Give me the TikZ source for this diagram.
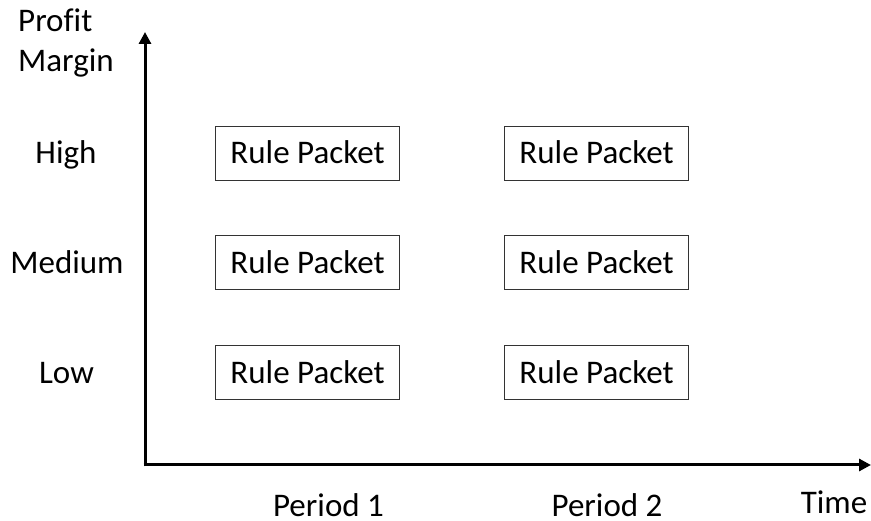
\documentclass[tikz,border=0pt]{standalone}
\usepackage{fontspec}
\setmainfont{Carlito}[Ligatures=NoCommon]
\usetikzlibrary{arrows.meta}
\begin{document}
\begin{tikzpicture}[x=1pt,y=-1pt,
  packet/.style={draw=black!80,line width=1pt,minimum width=184pt,minimum height=54pt,inner sep=0pt},
  ptext/.style={font=\fontsize{33}{36}\selectfont,inner sep=0pt,anchor=base},
  lbl/.style={font=\fontsize{33}{36}\selectfont,inner sep=0pt,anchor=base},
  axis/.style={line width=3pt,-{Triangle[length=12pt,width=12pt]}}]
\useasboundingbox (0,0) rectangle (871,521);
\coordinate (o) at (145,465);
\coordinate (ytop) at (145,32);
\coordinate (xend) at (871,465);
\draw[axis] ([yshift=-1.5pt]o) -- (ytop);
\draw[axis] ([xshift=-1.5pt]o) -- (xend);
\foreach \c/\x in {1/307.5,2/596.5}{
  \foreach \r/\y/\b in {1/154/164,2/263/274,3/373/384}{
    \node[packet] (p\c\r) at (\x,\y) {};
    \node[ptext] (t\c\r) at (\x,\b) {Rule Packet};
  }
}
\node[lbl] (high) at (66,164) {High};
\node[lbl] (med) at (67,274) {Medium};
\node[lbl] (low) at (66.5,384) {Low};
\node[lbl,anchor=base west] (profit) at (18,32) {Profit};
\node[lbl,anchor=base west] (margin) at (18,72) {Margin};
\node[lbl,text depth=0pt] (per1) at (328.5,516) {Period 1};
\node[lbl,text depth=0pt] (per2) at (607,516) {Period 2};
\node[lbl,text depth=0pt] (time) at (834,514) {Time};
\end{tikzpicture}
\end{document}
